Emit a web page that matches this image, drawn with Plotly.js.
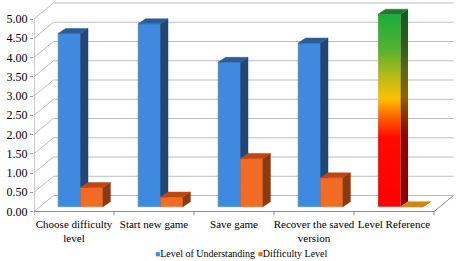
<!DOCTYPE html>
<html><head><meta charset="utf-8">
<script src="https://cdn.plot.ly/plotly-3.0.1.min.js"></script>
<style>html,body{margin:0;padding:0;background:#fff;}#chart{width:456px;height:261px;}</style>
</head><body><div id="chart"></div>
<script>
// ---- data ----
const categories = ["Choose difficulty<br>level", "Start new game", "Save game", "Recover the saved<br>version", "Level Reference"];
const seriesNames = ["Level of Understanding", "Difficulty Level"];
const understanding = [4.5, 4.75, 3.75, 4.25, 5.0];
const difficulty = [0.5, 0.25, 1.25, 0.75, 0.0];
const yTickValues = [0, 0.5, 1, 1.5, 2, 2.5, 3, 3.5, 4, 4.5, 5];

// ---- geometry (pixels -> axis units) ----
const W = 456, H = 261, ML = 34, MR = 2, MT = 2, MB = 45;
const PX_PER_CAT = 80, PX_PER_UNIT = 38.5, ZERO_PX = 211.5;
const plotW = W - ML - MR, plotH = H - MT - MB;
const xMin = -0.5, xMax = xMin + plotW / PX_PER_CAT;
const yMin = -(H - MB - ZERO_PX) / PX_PER_UNIT, yMax = (ZERO_PX - MT) / PX_PER_UNIT;
const ux = px => px / PX_PER_CAT, uy = px => px / PX_PER_UNIT;
const back = {dx: ux(19.5), dy: uy(16)};
const barPlane = {dx: ux(6.5), dy: uy(4.8)};
const depth = {dx: ux(7.5), dy: uy(5)};
const barW = ux(22.4);
const nCat = categories.length;
const xEnd = xMin + nCat;

const FONT = "Liberation Serif";
const seriesColors = [
  {front: "#3D8AE0", side: "#25466F", top: "#2C5B98"},
  {front: "#F26B22", side: "#8A3A12", top: "#BE4612", flat: "#D6840E"}
];
const gradFront = [[0, "#FF0000"], [0.36, "#FF0A00"], [0.47, "#FF6600"], [0.56, "#FFC000"], [0.68, "#B5BB18"], [0.82, "#52B22E"], [1, "#18AE3A"]];
const gradSide = [[0, "#8A0000"], [0.36, "#8A0500"], [0.47, "#8A3600"], [0.56, "#8A6600"], [0.68, "#626518"], [0.82, "#2C5E1C"], [1, "#145A24"]];
const gradTop = "#1C7A2E";

const traces = [];
function line(xs, ys, color, width) {
  traces.push({type: "scatter", mode: "lines", x: xs, y: ys, hoverinfo: "skip", showlegend: false,
    line: {color: color, width: width}});
}
function poly(xs, ys, color, grad) {
  const t = {type: "scatter", mode: "lines", x: xs.concat([xs[0]]), y: ys.concat([ys[0]]), fill: "toself",
    hoverinfo: "skip", showlegend: false, line: {width: 0.5, color: grad ? "rgba(0,0,0,0)" : color}};
  if (grad) {
    t.fillcolor = "rgba(0,0,0,0)";
    t.fillgradient = {type: "vertical", colorscale: grad.scale, start: grad.start, stop: grad.stop};
  } else {
    t.fillcolor = color;
  }
  traces.push(t);
}

// back wall gridlines + left wall diagonals
{
  const gx = [], gy = [];
  yTickValues.forEach(v => {
    gx.push(xMin, xMin + back.dx, xEnd + back.dx, null);
    gy.push(v, v + back.dy, v + back.dy, null);
  });
  line(gx, gy, "#BDBDBD", 1);
}
// floor front edge + right edge, vertical axis, boundary ticks
line([xMin, xEnd, xEnd + back.dx], [0, 0, back.dy], "#8C8C8C", 1);
line([xMin, xMin], [0, yTickValues[yTickValues.length - 1]], "#9A9A9A", 1);
{
  const tx = [], ty = [];
  for (let i = 0; i <= nCat; i++) { tx.push(xMin + i, xMin + i, null); ty.push(0, -0.1, null); }
  line(tx, ty, "#8C8C8C", 1);
}

// 3D bars
function bar(ci, si, v, col, gradient) {
  const b = barPlane.dy;
  const x0 = ci + barPlane.dx - barW + si * barW, x1 = x0 + barW;
  const t = b + v;
  poly([x0, x1, x1, x0], [b, b, t, t], col.front,
       gradient ? {scale: gradFront, start: b, stop: t} : null);
  poly([x1, x1 + depth.dx, x1 + depth.dx, x1], [b, b + depth.dy, t + depth.dy, t], col.side,
       gradient ? {scale: gradSide, start: b, stop: t + depth.dy} : null);
  const topColor = gradient ? gradTop : (v === 0 && col.flat ? col.flat : col.top);
  poly([x0, x1, x1 + depth.dx, x0 + depth.dx], [t, t, t + depth.dy, t + depth.dy], topColor, null);
}
const series = [understanding, difficulty];
for (let ci = 0; ci < nCat; ci++) {
  series.forEach((vals, si) => {
    const isReference = (ci === nCat - 1 && si === 0);
    bar(ci, si, vals[ci], seriesColors[si], isReference);
  });
}

const legendText = seriesNames.map((n, i) =>
  '<span style="color:' + seriesColors[i].front + ';font-size:8.5px">\u25A0</span>' + n).join(" ");

const layout = {
  width: W, height: H,
  margin: {l: ML, r: MR, t: MT, b: MB, pad: 0},
  paper_bgcolor: "#fff", plot_bgcolor: "#fff",
  showlegend: false,
  font: {family: FONT, color: "#000"},
  xaxis: {range: [xMin, xMax], tickvals: categories.map((c, i) => i), ticktext: categories,
    ticks: "", showgrid: false, zeroline: false, showline: false, fixedrange: true,
    tickfont: {family: FONT, size: 11, color: "#000"}},
  yaxis: {range: [yMin, yMax], tickvals: yTickValues, tickformat: ".2f", ticks: "outside", ticklen: 3,
    tickcolor: "#9A9A9A", showgrid: false, zeroline: false, showline: false, fixedrange: true,
    tickfont: {family: FONT, size: 12, color: "#000"}},
  annotations: [{text: legendText, xref: "paper", yref: "paper",
    x: (241.5 - ML) / plotW, y: (H - MB - 254) / plotH, xanchor: "center", yanchor: "middle",
    showarrow: false, font: {family: FONT, size: 10, color: "#000"}}]
};
Plotly.newPlot("chart", traces, layout, {displayModeBar: false, staticPlot: true});
</script>
</body></html>
